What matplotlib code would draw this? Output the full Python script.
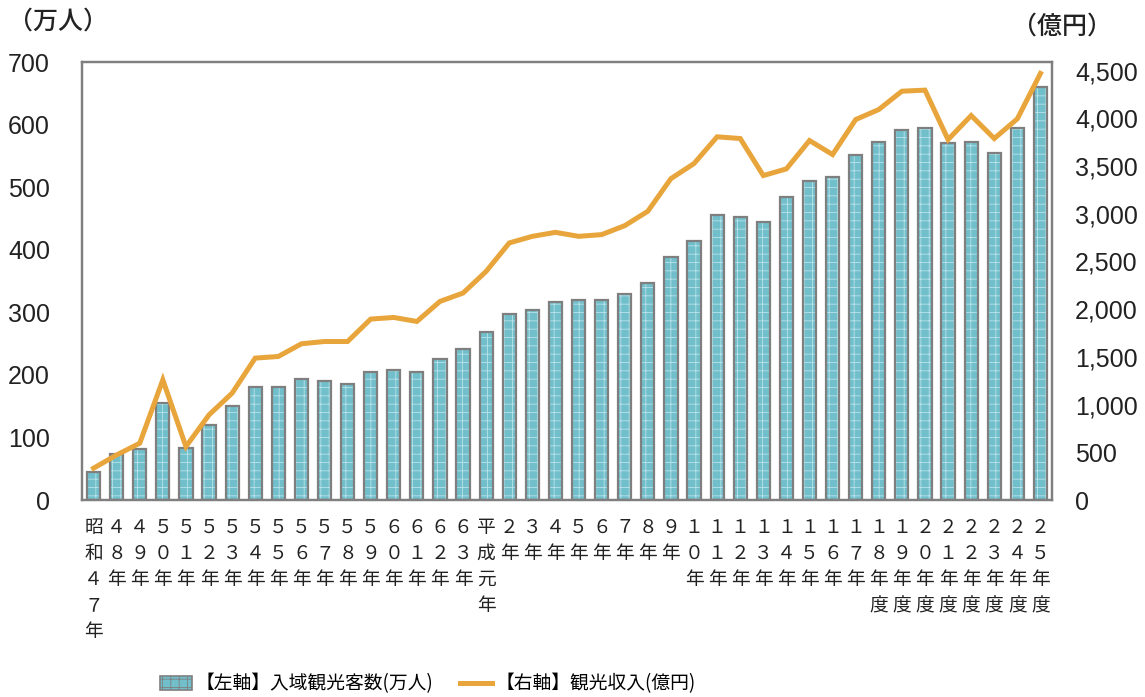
import matplotlib.pyplot as plt
from matplotlib.patches import Patch
from matplotlib.lines import Line2D

plt.rcParams["font.family"] = ["Noto Sans CJK JP", "DejaVu Sans"]

# 年次ラベル（縦書き用に一文字ずつ改行）
nendo = [
    "昭和４７年", "４８年", "４９年", "５０年", "５１年", "５２年", "５３年",
    "５４年", "５５年", "５６年", "５７年", "５８年", "５９年", "６０年",
    "６１年", "６２年", "６３年", "平成元年", "２年", "３年", "４年", "５年",
    "６年", "７年", "８年", "９年", "１０年", "１１年", "１２年", "１３年",
    "１４年", "１５年", "１６年", "１７年", "１８年度", "１９年度", "２０年度",
    "２１年度", "２２年度", "２３年度", "２４年度", "２５年度",
]

# 入域観光客数（万人）
kyaku = [
    44.4, 74.2, 81.5, 155.8, 83.6, 120.0, 150.1, 181.0, 181.0, 193.0, 190.0,
    186.0, 205.0, 208.0, 204.0, 226.0, 241.0, 268.0, 296.5, 303.0, 317.0,
    319.5, 319.0, 328.6, 347.0, 388.0, 414.0, 456.0, 453.0, 444.0, 485.0,
    510.0, 517.0, 552.0, 572.0, 591.0, 595.0, 571.0, 572.0, 554.0, 594.0, 660.0,
]

# 観光収入（億円）
shunyu = [
    333, 472, 595, 1259, 560, 892, 1120, 1487, 1504, 1637, 1661, 1661, 1896,
    1913, 1871, 2081, 2169, 2396, 2694, 2763, 2805, 2763, 2781, 2875, 3026,
    3368, 3526, 3806, 3788, 3400, 3470, 3767, 3620, 3987, 4092, 4284, 4295,
    3777, 4029, 3788, 3995, 4470,
]

bar_color = "#72bfcc"
edge_color = "#7f7f7f"
line_color = "#e8a53b"
text_color = "#222222"

fig = plt.figure(figsize=(11.45, 6.97), dpi=100)
ax = fig.add_axes([82 / 1145, 1 - 500 / 697, 970 / 1145, 438 / 697])
ax2 = ax.twinx()

x = list(range(len(nendo)))

# 棒（網かけ + 枠線）
plt.rcParams["hatch.linewidth"] = 0.6
ax.bar(x, kyaku, width=0.57, color=bar_color, edgecolor="#b9e2ea",
       hatch="++", linewidth=0, zorder=2)
ax.bar(x, kyaku, width=0.57, fill=False, edgecolor=edge_color,
       linewidth=1.6, zorder=3)

ax2.plot(x, shunyu, color=line_color, linewidth=3.6, solid_joinstyle="miter",
         zorder=4)

ax.set_xlim(-0.5, len(nendo) - 0.5)
ax.set_ylim(0, 700)
ax2.set_ylim(0, 4590)
ax.set_yticks(range(0, 701, 100))
ax2.set_yticks(range(0, 4501, 500))
ax2.set_yticklabels([f"{v:,}" for v in range(0, 4501, 500)])

ax.set_xticks(x)
ax.set_xticklabels(["\n".join(s) for s in nendo], fontsize=13.5,
                   linespacing=1.32, va="top", color=text_color)

for a in (ax, ax2):
    a.tick_params(length=0)
    for sp in a.spines.values():
        sp.set_color(edge_color)
        sp.set_linewidth(1.6)
ax.set_zorder(ax2.get_zorder() - 1)
ax.patch.set_visible(False)
ax2.set_zorder(1)

ax.tick_params(axis="x", pad=12)
ax.tick_params(axis="y", pad=23, labelsize=18)
ax2.tick_params(axis="y", pad=16.5, labelsize=18)
for lab in ax.get_yticklabels() + ax2.get_yticklabels():
    lab.set_family(["Liberation Sans", "DejaVu Sans"])
    lab.set_color(text_color)

fig.text(8 / 1145, 1 - 22 / 697, "（万人）", fontsize=18, va="center",
         ha="left", color=text_color, fontweight="medium")
fig.text(1112 / 1145, 1 - 27 / 697, "（億円）", fontsize=18, va="center",
         ha="right", color=text_color, fontweight="medium")

handles = [
    Patch(facecolor=bar_color, edgecolor=edge_color, hatch="++", linewidth=1.2),
    Line2D([0], [0], color=line_color, linewidth=3.6),
]
labels = ["【左軸】入域観光客数(万人)", "【右軸】観光収入(億円)"]
fig.legend(handles, labels, loc="center left",
           bbox_to_anchor=(160 / 1145, 1 - 684 / 697),
           ncol=2, frameon=False, fontsize=13.5, columnspacing=1.4,
           handlelength=1.7, handletextpad=0.2, borderpad=0, borderaxespad=0)

fig.savefig("out.png", dpi=100)
